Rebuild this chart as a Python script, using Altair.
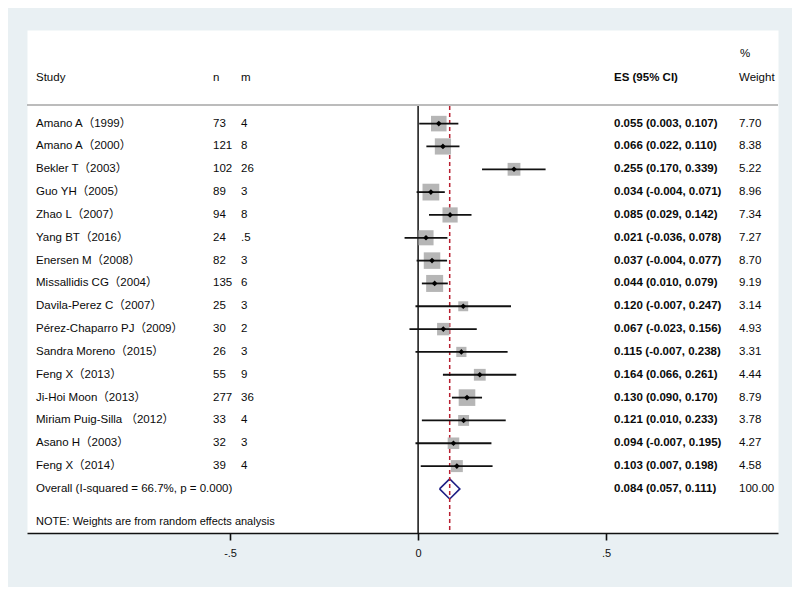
import altair as alt
import pandas as pd

# ---- data ----
studies = ["Amano A（1999）", "Amano A（2000）", "Bekler T（2003）", "Guo YH（2005）",
           "Zhao L（2007）", "Yang BT（2016）", "Enersen M（2008）", "Missallidis CG（2004）",
           "Davila-Perez C（2007）", "Pérez-Chaparro PJ（2009）", "Sandra Moreno（2015）",
           "Feng X（2013）", "Ji-Hoi Moon（2013）", "Miriam Puig-Silla  （2012）",
           "Asano H（2003）", "Feng X（2014）"]
n_vals = [73, 121, 102, 89, 94, 24, 82, 135, 25, 30, 26, 55, 277, 33, 32, 39]
m_vals = ["4", "8", "26", "3", "8", ".5", "3", "6", "3", "2", "3", "9", "36", "4", "3", "4"]
es = [0.055, 0.066, 0.255, 0.034, 0.085, 0.021, 0.037, 0.044, 0.120, 0.067, 0.115,
      0.164, 0.130, 0.121, 0.094, 0.103]
lo = [0.003, 0.022, 0.170, -0.004, 0.029, -0.036, -0.004, 0.010, -0.007, -0.023, -0.007,
      0.066, 0.090, 0.010, -0.007, 0.007]
hi = [0.107, 0.110, 0.339, 0.071, 0.142, 0.078, 0.077, 0.079, 0.247, 0.156, 0.238,
      0.261, 0.170, 0.233, 0.195, 0.198]
weights = [7.70, 8.38, 5.22, 8.96, 7.34, 7.27, 8.70, 9.19, 3.14, 4.93, 3.31, 4.44,
           8.79, 3.78, 4.27, 4.58]
overall_es, overall_lo, overall_hi, overall_w = 0.084, 0.057, 0.111, 100.00
i_squared, p_value = 66.7, 0.000
axis_ticks = [-0.5, 0, 0.5]
note_text = "NOTE: Weights are from random effects analysis"

# ---- tables ----
def ci_text(e, l, h):
    return f"{e:.3f} ({l:.3f}, {h:.3f})"

rows = pd.DataFrame({
    "row": list(range(len(studies))),
    "study": studies,
    "n": [str(v) for v in n_vals],
    "m": m_vals,
    "es": es, "lo": lo, "hi": hi, "w": weights,
    "es_txt": [ci_text(e, l, h) for e, l, h in zip(es, lo, hi)],
    "w_txt": [f"{w:.2f}" for w in weights],
})
ov_row = len(studies)
overall = pd.DataFrame({
    "row": [ov_row],
    "study": [f"Overall  (I-squared = {i_squared:.1f}%, p = {p_value:.3f})"],
    "es_txt": [ci_text(overall_es, overall_lo, overall_hi)],
    "w_txt": [f"{overall_w:.2f}"],
})
half_h = 0.44
diamond = pd.DataFrame({
    "k": [0, 1, 2, 3, 4],
    "x": [overall_lo, overall_es, overall_hi, overall_es, overall_lo],
    "row": [ov_row, ov_row - half_h, ov_row, ov_row + half_h, ov_row],
})

FONT = "Liberation Sans, Arial, Noto Sans CJK SC"
TXT = "#0a0a0a"
W, H = 751, 503
xs = alt.Scale(domain=[-1.040, 0.957], nice=False, zero=False)
ys = alt.Scale(domain=[-4.10, 17.93], reverse=True, nice=False, zero=False)

AX = alt.Axis(
    values=axis_ticks, title=None, grid=False,
    labelExpr="datum.value == 0 ? '0' : (datum.value < 0 ? '-' + replace(format(abs(datum.value), '.1f'), '0.', '.') : replace(format(datum.value, '.1f'), '0.', '.'))",
    domainColor="#111", domainWidth=1.6, tickColor="#111", tickWidth=1.6, tickSize=7,
    labelFontSize=11, labelColor="#111", labelFont=FONT, labelPadding=7)


def X(field):
    return alt.X(f"{field}:Q", scale=xs, axis=AX)


Y_ROW = alt.Y("row:Q", scale=ys, axis=None)

base = alt.Chart(rows)

# header rule
hdr_rule = alt.Chart(pd.DataFrame({"a": [0]})).mark_rule(color="#a6a6a6", strokeWidth=1.5).encode(
    x=alt.value(0), x2=alt.value(W), y=alt.value(75))


def hdr_text(t, px, py, weight="normal"):
    return alt.Chart(pd.DataFrame({"t": [t]})).mark_text(
        align="left", baseline="middle", font=FONT, fontSize=11.5, fontWeight=weight,
        color=TXT).encode(x=alt.value(px), y=alt.value(py), text="t:N")


headers = [hdr_text("Study", 9, 48), hdr_text("n", 186, 48), hdr_text("m", 214, 48),
           hdr_text("ES (95% CI)", 587, 48, "bold"), hdr_text("%", 713, 24),
           hdr_text("Weight", 712, 48)]

zero_line = alt.Chart(pd.DataFrame({"x": [0]})).mark_rule(color="#111", strokeWidth=1.5).encode(
    x=X("x"), y=alt.value(76), y2=alt.value(H))
ov_line = alt.Chart(pd.DataFrame({"x": [overall_es]})).mark_rule(
    color="#b81f30", strokeWidth=1.5, strokeDash=[4, 3]).encode(
    x=X("x"), y=alt.value(76), y2=alt.value(H))

squares = base.mark_square(color="#b6b6b6", opacity=1, filled=True).encode(
    x=X("es"), y=Y_ROW,
    size=alt.Size("w:Q", scale=alt.Scale(type="linear", domain=[0, 10], range=[0, 314]), legend=None))
ci = base.mark_rule(color="#111", strokeWidth=1.8).encode(
    x=X("lo"), x2="hi:Q", y=Y_ROW)
dots = base.mark_point(shape="diamond", filled=True, color="#000", size=32, opacity=1).encode(
    x=X("es"), y=Y_ROW)

dia = alt.Chart(diamond).mark_line(color="#1e1e85", strokeWidth=1.6).encode(
    x=X("x"), y=Y_ROW, order="k:Q")


def col(data, field, px, weight="normal", size=11.5):
    return alt.Chart(data).mark_text(align="left", baseline="middle", font=FONT, fontSize=size,
                                     fontWeight=weight, color=TXT).encode(
        x=alt.value(px), y=Y_ROW, text=f"{field}:N")


texts = [
    col(rows, "study", 9), col(rows, "n", 186), col(rows, "m", 214),
    col(rows, "es_txt", 587, "bold"), col(rows, "w_txt", 712),
    col(overall, "study", 9), col(overall, "es_txt", 587, "bold"), col(overall, "w_txt", 712),
]
note = alt.Chart(pd.DataFrame({"t": [note_text]})).mark_text(
    align="left", baseline="middle", font=FONT, fontSize=11, color=TXT).encode(
    x=alt.value(9), y=alt.value(492), text="t:N")

chart = alt.layer(
    dia, hdr_rule, *headers, zero_line, ov_line, squares, ci, dots, *texts, note
).properties(
    width=W, height=H, background="#e9f0f3",
    autosize=alt.AutoSizeParams(type="none"),
    padding={"left": 19, "top": 22, "right": 14, "bottom": 54},
).configure_view(fill="white", stroke="transparent")

chart.save("out.html", embed_options={"renderer": "svg", "actions": False})
